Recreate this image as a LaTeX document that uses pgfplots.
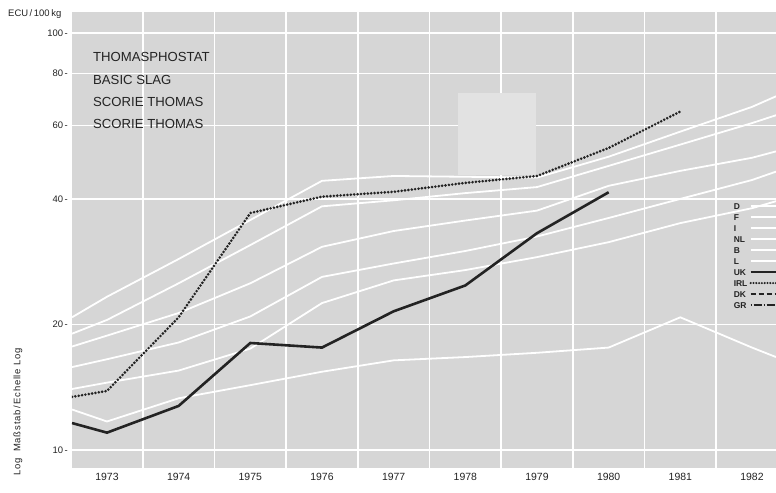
\documentclass[border=0pt]{standalone}
\usepackage{fontspec}
\setmainfont{Liberation Sans}
\usepackage{pgfplots}
\pgfplotsset{compat=1.18}
\definecolor{bg}{RGB}{214,214,214}
\definecolor{patch}{RGB}{226,226,226}
\definecolor{ink}{RGB}{35,35,35}

\begin{document}
\begin{tikzpicture}
\begin{axis}[
    scale only axis, width=704bp, height=456bp,
    xmin=1972.512, xmax=1982.335,
    ymode=log, ymin=9.05, ymax=112.3,
    axis line style={draw=none},
    axis background/.style={fill=bg},
    tick style={draw=none},
    xtick={1973,1974,1975,1976,1977,1978,1979,1980,1981,1982},
    xticklabels={1973,1974,1975,1976,1977,1978,1979,1980,1981,1982},
    minor xtick={1972.5,1973.5,1974.5,1975.5,1976.5,1977.5,1978.5,1979.5,1980.5,1981.5},
    xminorgrids,
    ytick={10,20,40,60,80,100},
    yticklabels={10\,-,20\,-,40\,-,60\,-,80\,-,100\,-},
    ymajorgrids,
    grid style={white, line width=1.6bp},
    minor grid style={white, line width=1.6bp},
    ticklabel style={font=\fontsize{9.5}{11}\selectfont, text=ink},
    yticklabel style={anchor=east, inner sep=0pt, xshift=-4bp},
    xticklabel style={anchor=north, inner sep=0pt, yshift=-5bp, font=\fontsize{10.5}{12}\selectfont},
    legend plot pos=right,
    legend cell align=left,
    legend image code/.code={\draw[#1] (0bp,0bp) -- (28bp,0bp);},
    legend style={at={(0.939,0.583)}, anchor=north west, draw=none, fill=none,
        font=\fontsize{8.5}{9}\selectfont\bfseries, text=ink,
        row sep=3.5bp, inner sep=0pt, column sep=1.5bp,
        nodes={inner sep=0.5bp, text height=6.5bp, text depth=0bp}},
]
% erased patch in the scan
\fill[patch] (axis cs:1977.9,45.7) rectangle (axis cs:1978.99,71.8);

% white lines (D, F, I, NL, B, L)
\addplot[white, line width=1.8bp, forget plot] coordinates {
    (1972.512,20.8) (1973,23.3) (1974,28.7) (1975,35.6) (1976,44.2) (1977,45.4)
    (1978,45.2) (1979,45.0) (1980,50.5) (1981,58.0) (1982,66.5) (1982.335,70.5)
};
\addplot[white, line width=1.8bp, forget plot] coordinates {
    (1972.512,19.0) (1973,20.5) (1974,25.1) (1975,31.0) (1976,38.4) (1977,39.7)
    (1978,41.3) (1979,42.7) (1980,48.0) (1981,54.0) (1982,60.8) (1982.335,63.5)
};
\addplot[white, line width=1.8bp, forget plot] coordinates {
    (1972.512,17.7) (1973,18.8) (1974,21.3) (1975,25.1) (1976,30.7) (1977,33.5)
    (1978,35.5) (1979,37.5) (1980,43.0) (1981,46.7) (1982,50.2) (1982.335,52.0)
};
\addplot[white, line width=1.8bp, forget plot] coordinates {
    (1972.512,15.8) (1973,16.5) (1974,18.1) (1975,20.9) (1976,26.0) (1977,28.0)
    (1978,30.0) (1979,32.5) (1980,36.0) (1981,40.0) (1982,44.4) (1982.335,46.5)
};
\addplot[white, line width=1.8bp, forget plot] coordinates {
    (1972.512,14.0) (1973,14.5) (1974,15.5) (1975,17.5) (1976,22.5) (1977,25.5)
    (1978,27.0) (1979,29.0) (1980,31.5) (1981,35.0) (1982,38.0) (1982.335,39.5)
};
\addplot[white, line width=1.8bp, forget plot] coordinates {
    (1972.512,12.5) (1973,11.7) (1974,13.3) (1975,14.3) (1976,15.4) (1977,16.4)
    (1978,16.7) (1979,17.1) (1980,17.6) (1981,20.8) (1982,17.6) (1982.335,16.7)
};

% UK
\addplot[ink, line width=2.6bp, forget plot] coordinates {
    (1972.512,11.6) (1973,11.0) (1974,12.75) (1975,18.05) (1976,17.6)
    (1977,21.5) (1978,24.8) (1979,33.1) (1980,41.5)
};
% IRL
\addplot[ink, line width=2.9bp, line cap=round, dash pattern=on 0bp off 3.4bp, forget plot] coordinates {
    (1972.512,13.4) (1973,13.85) (1974,20.8) (1975,37.0) (1976,40.5)
    (1977,41.6) (1978,43.7) (1979,45.4) (1980,53.0) (1981,64.8)
};

\addlegendimage{white, line width=2bp}\addlegendentry{D}
\addlegendimage{white, line width=2bp}\addlegendentry{F}
\addlegendimage{white, line width=2bp}\addlegendentry{I}
\addlegendimage{white, line width=2bp}\addlegendentry{NL}
\addlegendimage{white, line width=2bp}\addlegendentry{B}
\addlegendimage{white, line width=2bp}\addlegendentry{L}
\addlegendimage{ink, line width=2.6bp}\addlegendentry{UK}
\addlegendimage{ink, line width=2.3bp, line cap=round, dash pattern=on 0bp off 2.8bp}\addlegendentry{IRL}
\addlegendimage{ink, line width=1.7bp, dash pattern=on 5bp off 3bp}\addlegendentry{DK}
\addlegendimage{ink, line width=1.7bp, dash pattern=on 1bp off 2bp on 8bp off 2bp}\addlegendentry{GR}
\end{axis}

\begin{scope}[every node/.style={anchor=west, inner sep=0pt, text=ink, font=\fontsize{13.2}{15}\selectfont}]
\node at ([shift={(21bp,-45bp)}]current axis.north west) {THOMASPHOSTAT};
\node at ([shift={(21bp,-68bp)}]current axis.north west) {BASIC SLAG};
\node at ([shift={(21bp,-90bp)}]current axis.north west) {SCORIE THOMAS};
\node at ([shift={(21bp,-112bp)}]current axis.north west) {SCORIE THOMAS};
\end{scope}

\node[anchor=west, inner sep=0pt, text=ink, font=\fontsize{9.5}{11}\selectfont]
    at ([shift={(-64bp,-2bp)}]current axis.north west) {ECU\,/\,100\,kg};
\node[rotate=90, inner sep=0pt, text=ink, font=\fontsize{9.5}{11}\selectfont\addfontfeatures{LetterSpace=8}]
    at ([shift={(-54bp,56bp)}]current axis.south west) {Log\ \ Maßstab\,/\,Echelle Log};

\pgfresetboundingbox
\path[use as bounding box] ([shift={(-72bp,-25bp)}]current axis.south west)
    rectangle ([shift={(0bp,12bp)}]current axis.north east);
\end{tikzpicture}
\end{document}
